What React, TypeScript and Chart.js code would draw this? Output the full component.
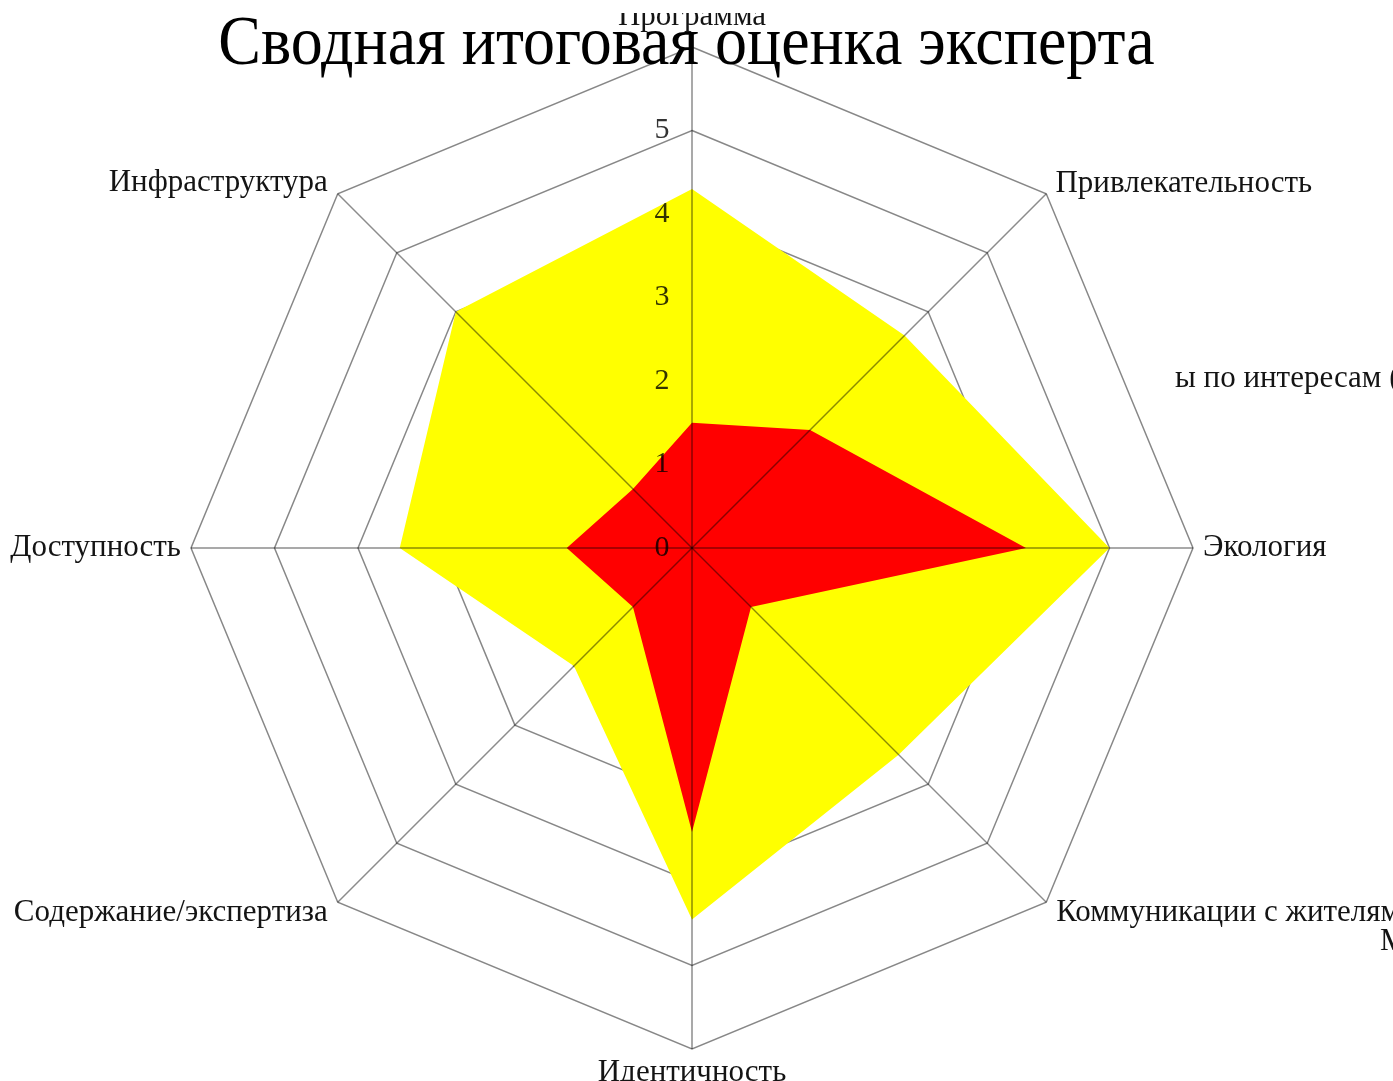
import React, { useEffect, useRef } from 'react';
import { Chart, registerables } from 'chart.js';

Chart.register(...registerables);

const TITLE = 'Сводная итоговая оценка эксперта';
const CATEGORIES = [
  'Программа',
  'Привлекательность',
  'Экология',
  'Коммуникации с жителями',
  'Идентичность',
  'Содержание/экспертиза',
  'Доступность',
  'Инфраструктура',
];
const SERIES_NAMES = ['Нижняя оценка', 'Верхняя оценка'];
const RED_VALUES = [1.5, 2.0, 4.0, 1.0, 3.4, 1.0, 1.5, 1.0];
const YELLOW_VALUES = [4.3, 3.6, 5.0, 3.5, 4.45, 2.0, 3.5, 4.0];
const TICK_VALUES = [0, 1, 2, 3, 4, 5, 6];
const TICK_LABELS = ['0', '1', '2', '3', '4', '5', ''];
const EXTRA_TEXTS = ['ы по интересам (', 'М'];

const SERIF = "'Liberation Serif', 'Times New Roman', Times, serif";
const LABEL_PAD = [13, -4, -7, -3, 6, -3, -7, -3];

function radialScale(overlay: boolean): any {
  return {
    type: 'radialLinear',
    axis: 'r',
    display: true,
    min: 0,
    max: 6,
    startAngle: 0,
    afterBuildTicks: (scale: any) => {
      scale.ticks = [{ value: TICK_VALUES[0] }, ...TICK_VALUES.map((v) => ({ value: v }))];
    },
    ticks: {
      display: true,
      z: overlay ? 2 : 0,
      showLabelBackdrop: false,
      color: overlay ? 'rgba(0,0,0,0.8)' : 'rgba(0,0,0,0)',
      font: { family: SERIF, size: 30 },
      callback: (_v: any, index: number) =>
        index === 0 ? '' : TICK_LABELS[index - 1] + '\u2002\u2002\u2002\u2002',
    },
    grid: {
      display: true,
      z: overlay ? 1 : -1,
      color: overlay ? 'rgba(0,0,0,0)' : 'rgba(0,0,0,0.47)',
      lineWidth: 1.5,
    },
    angleLines: {
      display: overlay,
      color: 'rgba(0,0,0,0.45)',
      lineWidth: 1.5,
    },
    pointLabels: {
      display: true,
      color: overlay ? 'rgba(0,0,0,0)' : '#141414',
      font: { family: SERIF, size: 31, lineHeight: '1px' },
      padding: (ctx: any) => LABEL_PAD[ctx.index],
    },
  };
}

export default function App() {
  const canvasRef = useRef<HTMLCanvasElement | null>(null);

  useEffect(() => {
    if (!canvasRef.current) return;
    const chart = new Chart(canvasRef.current, {
      type: 'radar',
      data: {
        labels: CATEGORIES,
        datasets: [
          {
            label: SERIES_NAMES[0],
            data: RED_VALUES,
            rAxisID: 'r',
            backgroundColor: '#ff0000',
            borderColor: 'rgba(0,0,0,0)',
            borderWidth: 0,
            pointRadius: 0,
            pointHoverRadius: 0,
            fill: true,
          } as any,
          {
            label: SERIES_NAMES[1],
            data: YELLOW_VALUES,
            rAxisID: 'r',
            backgroundColor: '#ffff00',
            borderColor: 'rgba(0,0,0,0)',
            borderWidth: 0,
            pointRadius: 0,
            pointHoverRadius: 0,
            fill: true,
          } as any,
        ],
      },
      options: {
        responsive: false,
        animation: false,
        devicePixelRatio: 1,
        layout: { padding: { left: 0, right: 0, top: 0, bottom: 4 } },
        plugins: {
          legend: { display: false },
          title: { display: false },
          tooltip: { enabled: false },
        },
        scales: {
          r: radialScale(false),
          r2: radialScale(true),
        },
      } as any,
    });
    return () => chart.destroy();
  }, []);

  return (
    <div
      style={{
        position: 'fixed',
        left: 0,
        top: 0,
        width: 1393,
        height: 1081,
        overflow: 'hidden',
        background: '#ffffff',
      }}
    >
      <canvas
        ref={canvasRef}
        width={1800}
        height={1068}
        style={{ position: 'absolute', left: -208, top: 13, width: 1800, height: 1068 }}
      />
      <div
        style={{
          position: 'absolute',
          left: 0,
          top: 11,
          width: 1373,
          textAlign: 'center',
          fontFamily: SERIF,
          fontSize: 64,
          lineHeight: '64px',
          color: '#000',
          whiteSpace: 'nowrap',
          transform: 'scaleY(1.1)',
          transformOrigin: 'center 54px',
        }}
      >
        {TITLE}
      </div>
      <div
        style={{
          position: 'absolute',
          left: 1175,
          top: 361,
          fontFamily: SERIF,
          fontSize: 31,
          lineHeight: '31px',
          color: '#141414',
          whiteSpace: 'nowrap',
        }}
      >
        {EXTRA_TEXTS[0]}
      </div>
      <div
        style={{
          position: 'absolute',
          left: 1380,
          top: 924,
          fontFamily: SERIF,
          fontSize: 31,
          lineHeight: '31px',
          color: '#141414',
          whiteSpace: 'nowrap',
        }}
      >
        {EXTRA_TEXTS[1]}
      </div>
    </div>
  );
}
